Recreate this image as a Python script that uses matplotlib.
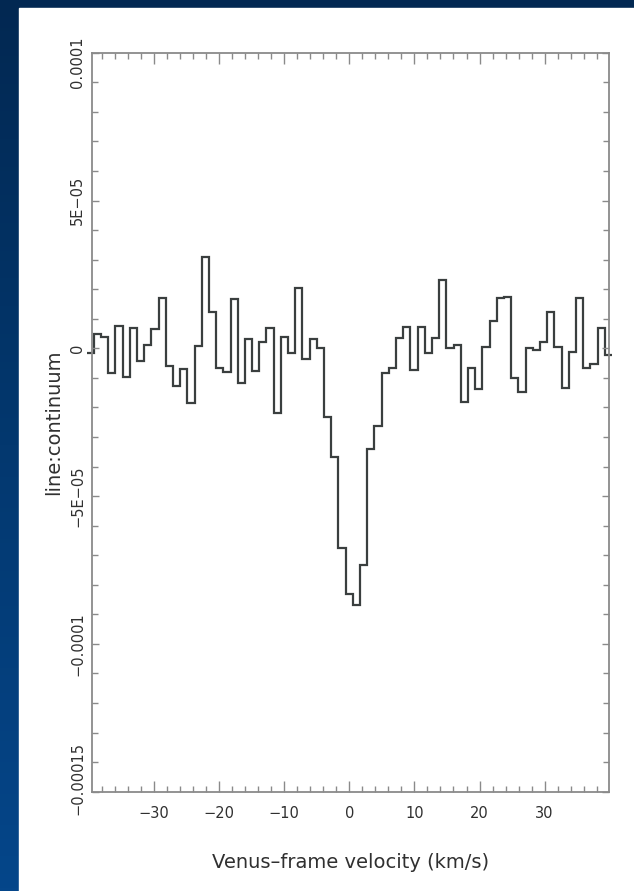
import numpy as np
import matplotlib
matplotlib.use("Agg")
import matplotlib.pyplot as plt
from matplotlib.patches import Rectangle
from matplotlib.colors import LinearSegmentedColormap
from matplotlib.transforms import ScaledTranslation
from matplotlib.ticker import MultipleLocator

# channel centres (km/s) and line:continuum values (units of 1e-5)
velocity = [-39.78, -38.68, -37.57, -36.47, -35.36, -34.26, -33.15, -32.05, -30.94,
            -29.84, -28.73, -27.63, -26.52, -25.42, -24.31, -23.21, -22.10, -21.00,
            -19.89, -18.79, -17.68, -16.58, -15.47, -14.37, -13.26, -12.16, -11.05,
            -9.95, -8.84, -7.74, -6.63, -5.53, -4.42, -3.32, -2.21, -1.11, 0.00,
            1.11, 2.21, 3.32, 4.42, 5.53, 6.63, 7.74, 8.84, 9.95, 11.05, 12.16,
            13.26, 14.37, 15.47, 16.58, 17.68, 18.79, 19.89, 21.00, 22.10, 23.21,
            24.31, 25.42, 26.52, 27.63, 28.73, 29.84, 30.94, 32.05, 33.15, 34.26,
            35.36, 36.47, 37.57, 38.68, 39.78]
ratio = [-0.17, 0.47, 0.39, -0.82, 0.75, -0.96, 0.70, -0.42, 0.11, 0.64,
         1.69, -0.60, -1.28, -0.71, -1.86, 0.08, 3.10, 1.24, -0.68, -0.81,
         1.66, -1.18, 0.31, -0.76, 0.20, 0.70, -2.18, 0.39, -0.15, 2.05,
         -0.36, 0.31, 0.00, -2.31, -3.69, -6.75, -8.32, -8.68, -7.33, -3.42,
         -2.62, -0.82, -0.66, 0.36, 0.73, -0.73, 0.73, -0.15, 0.34, 2.31,
         0.02, 0.11, -1.83, -0.68, -1.39, 0.05, 0.93, 1.71, 1.75, -0.99,
         -1.49, 0.02, -0.06, 0.20, 1.24, 0.05, -1.35, -0.11, 1.71, -0.66,
         -0.53, 0.68, -0.23]

xticks = [-30, -20, -10, 0, 10, 20, 30]
yticks = [-0.00015, -0.0001, -0.00005, 0, 0.00005, 0.0001]
ytick_labels = ["\u22120.00015", "\u22120.0001", "\u22125E\u221205", "0", "5E\u221205", "0.0001"]

v = np.array(velocity)
y = np.array(ratio) * 1e-5
w = np.mean(np.diff(v))
edges = np.concatenate([v - w / 2, [v[-1] + w / 2]])

fig = plt.figure(figsize=(6.34, 8.91), dpi=100)

# slide background
bg = fig.add_axes([0, 0, 1, 1])
cmap = LinearSegmentedColormap.from_list("slide", ["#022852", "#03386f", "#05468a"])
grad = np.linspace(0, 1, 256).reshape(-1, 1)
bg.imshow(grad, extent=[0, 1, 0, 1], aspect="auto", cmap=cmap, origin="upper")
bg.add_patch(Rectangle((19 / 634, 0), 1, 1 - 8 / 891, color="white", transform=bg.transAxes))
bg.set_xlim(0, 1)
bg.set_ylim(0, 1)
bg.axis("off")

ax = fig.add_axes([92 / 634, 1 - 791.7 / 891, 516.5 / 634, 739 / 891])
ax.set_facecolor("white")
ax.stairs(y, edges, color="#3a3f3f", linewidth=1.6, baseline=None, clip_on=False)

ax.set_xlim(-39.5, 39.8)
ax.set_ylim(-0.00015, 0.0001)
ax.set_xticks(xticks)
ax.set_xticklabels(["\u2212" + str(-t) if t < 0 else str(t) for t in xticks])
ax.xaxis.set_minor_locator(MultipleLocator(2))
ax.set_yticks(yticks)
ax.set_yticklabels(ytick_labels, rotation=90, va="center")
ax.yaxis.set_minor_locator(MultipleLocator(1e-5))

for s in ax.spines.values():
    s.set_color("#8a8a8a")
    s.set_linewidth(1.3)

ax.tick_params(which="both", direction="in", top=True, right=True, color="#8a8a8a",
               labelcolor="#303030", labelsize=10.5)
ax.tick_params(axis="x", which="major", length=8, width=1, pad=10)
ax.tick_params(axis="x", which="minor", length=4, width=1)
ax.tick_params(axis="y", which="major", length=5, width=1, pad=5)
ax.tick_params(axis="y", which="minor", length=4, width=1)

# nudge the end labels inward as in the original
labels = ax.get_yticklabels()
labels[0].set_transform(labels[0].get_transform() + ScaledTranslation(0, 13 / 100, fig.dpi_scale_trans))
labels[-1].set_transform(labels[-1].get_transform() + ScaledTranslation(0, -10 / 100, fig.dpi_scale_trans))

ax.set_xlabel("Venus\u2013frame velocity (km/s)", fontsize=14, color="#303030")
ax.set_ylabel("line:continuum", fontsize=14, color="#303030")
ax.xaxis.set_label_coords(0.5, -0.083)
ax.yaxis.set_label_coords(-0.056, 0.5)

fig.savefig("out.png", dpi=100)
